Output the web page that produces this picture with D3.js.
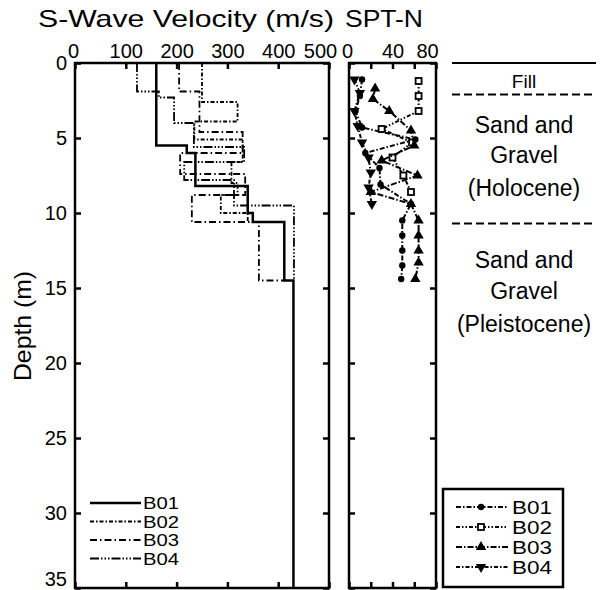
<!DOCTYPE html>
<html>
<head>
<meta charset="utf-8">
<script src="https://cdn.jsdelivr.net/npm/d3@7"></script>
<style>
  body { margin: 0; background: #fff; }
  text { font-family: "Liberation Sans", Arial, sans-serif; fill: #000; }
</style>
</head>
<body>
<div id="chart"></div>
<script>
// chart data
var boreholes = ["B01", "B02", "B03", "B04"];

// S-wave velocity profiles: layer boundaries (m) and layer velocities (m/s)
var vsDepthB01 = [0, 5.5, 6.0, 8.2, 10.0, 10.6, 14.5, 35];
var vsB01 = [160, 220, 237, 340, 350, 412, 430];
var vsDepthB02 = [0, 2.6, 3.9, 5.1, 6.6, 8.0, 8.8, 10.0, 10.6];
var vsB02 = [250, 320, 235, 330, 308, 320, 287, 340];
var vsDepthB03 = [0, 1.9, 4.6, 6.0, 7.4, 8.8, 10.6, 14.5, 14.5];
var vsB03 = [205, 245, 330, 207, 335, 230, 362, 412];
var vsDepthB04 = [0, 1.9, 2.3, 4.0, 5.6, 6.6, 7.8, 9.5, 14.5];
var vsB04 = [122, 165, 195, 234, 333, 215, 313, 431];

// SPT-N blow counts
var sptDepthB01 = [1.1, 2.2, 3.2, 4.3, 5.1, 6.0, 7.0, 8.1, 9.4, 10.5, 11.5, 12.5, 13.5, 14.4];
var sptB01 = [12, 10, 6, 12, 61, 15, 28, 29, 57, 49, 49, 49, 49, 48];
var sptDepthB02 = [1.2, 2.2, 3.2, 4.4, 5.3, 6.3, 7.5, 8.6];
var sptB02 = [64, 64, 64, 30, 58, 40, 50, 57];
var sptDepthB03 = [1.7, 2.4, 3.2, 4.5, 5.5, 6.5, 7.5, 8.6, 9.4, 10.5, 11.5, 12.5, 13.3, 14.4];
var sptB03 = [24, 22, 37, 57, 60, 30, 63, 20, 57, 64, 64, 64, 64, 61];
var sptDepthB04 = [1.1, 2.0, 3.2, 4.2, 5.3, 6.3, 7.3, 8.3, 9.4];
var sptB04 = [5, 10, 5, 8, 12, 18, 20, 18, 21];

var vsTicks = [0, 100, 200, 300, 400, 500];
var sptTicks = [0, 20, 40, 60, 80];
var sptLabels = [0, 40, 80];
var depthTicks = [0, 5, 10, 15, 20, 25, 30, 35];

// geology column
var layerBounds = [0, 2.1, 10.7];
var layerNames = [["Fill"], ["Sand and", "Gravel", "(Holocene)"], ["Sand and", "Gravel", "(Pleistocene)"]];
var layerTextDepth = [[1.1], [4.1, 6.1, 8.3], [13.1, 15.2, 17.4]];

var svgWidth = 610, svgHeight = 590;

var svg = d3.select("#chart").append("svg")
  .attr("width", svgWidth)
  .attr("height", svgHeight);

var yScale = d3.scaleLinear().domain([0, 35]).range([63, 588]);
var xVs = d3.scaleLinear().domain([0, 500]).range([75, 329]);
var xSpt = d3.scaleLinear().domain([0, 80]).range([349, 436]);

var vsDash = ["none", "4,2,1.5,2", "7,3,1.5,3", "9,2,1.5,2,1.5,2,1.5,2"];
var sptDash = ["5,2,1.5,2", "4,2,1.5,2,1.5,2", "6,2,1.5,2", "4,2,1.5,2"];

// helper: draw a frame with inward ticks
function drawFrame(xs, xticks, xlabels) {
  var g = svg.append("g");
  var x0 = xs.range()[0], x1 = xs.range()[1];
  var y0 = yScale.range()[0], y1 = yScale.range()[1];

  var top = d3.axisTop(xs).tickValues(xticks).tickSizeInner(-6).tickSizeOuter(0).tickPadding(5)
    .tickFormat(d => xlabels.indexOf(d) >= 0 ? d : "");
  var topG = g.append("g").attr("transform", `translate(0,${y0})`).call(top);

  var bottom = d3.axisBottom(xs).tickValues(xticks).tickSizeInner(-6).tickSizeOuter(0).tickFormat("");
  g.append("g").attr("transform", `translate(0,${y1})`).call(bottom);

  var right = d3.axisRight(yScale).tickValues(depthTicks).tickSizeInner(-6).tickSizeOuter(0).tickFormat("");
  g.append("g").attr("transform", `translate(${x1},0)`).call(right);

  g.selectAll(".domain").remove();
  g.selectAll("line").attr("stroke-width", 2.5);
  g.selectAll("text").style("font-size", "20px").attr("font-family", "Liberation Sans, Arial, sans-serif");

  // last label sits a little inside the frame corner
  topG.selectAll("text").filter(d => d === xticks[xticks.length - 1]).attr("dx", -9);
  topG.selectAll("text").filter(d => d === 0).attr("dx", -2);

  g.append("rect")
    .attr("x", x0).attr("y", y0)
    .attr("width", x1 - x0).attr("height", y1 - y0)
    .attr("fill", "none").attr("stroke", "#000").attr("stroke-width", 2.5);
  return g;
}

// S-wave panel
var vsFrame = drawFrame(xVs, vsTicks, vsTicks);
var left = d3.axisLeft(yScale).tickValues(depthTicks).tickSizeInner(-6).tickSizeOuter(0).tickPadding(8);
var leftG = svg.append("g").attr("transform", `translate(${xVs.range()[0]},0)`).call(left);
leftG.select(".domain").remove();
leftG.selectAll("line").attr("stroke-width", 2.5);
leftG.selectAll("text").style("font-size", "20px").attr("font-family", "Liberation Sans, Arial, sans-serif");
leftG.selectAll("text").filter(d => d === 35).attr("dy", "-0.15em");

// SPT panel
var sptFrame = drawFrame(xSpt, sptTicks, sptLabels);
var left2 = d3.axisLeft(yScale).tickValues(depthTicks).tickSizeInner(-6).tickSizeOuter(0).tickFormat("");
var left2G = svg.append("g").attr("transform", `translate(${xSpt.range()[0]},0)`).call(left2);
left2G.select(".domain").remove();
left2G.selectAll("line").attr("stroke-width", 2.5);

// titles
svg.append("text").attr("x", 186).attr("y", 27).attr("text-anchor", "middle")
  .style("font-size", "24px").attr("textLength", 296).attr("lengthAdjust", "spacingAndGlyphs")
  .text("S-Wave Velocity (m/s)");
svg.append("text").attr("x", 384).attr("y", 27).attr("text-anchor", "middle")
  .style("font-size", "24px").attr("textLength", 78).attr("lengthAdjust", "spacingAndGlyphs")
  .text("SPT-N");
svg.append("text")
  .attr("transform", "translate(31,326) rotate(-90)")
  .attr("text-anchor", "middle")
  .style("font-size", "24px").attr("textLength", 110).attr("lengthAdjust", "spacingAndGlyphs")
  .text("Depth (m)");

// velocity step profiles
var vsDepths = [vsDepthB01, vsDepthB02, vsDepthB03, vsDepthB04];
var vsVals = [vsB01, vsB02, vsB03, vsB04];
var line = d3.line().x(d => d[0]).y(d => d[1]);

boreholes.forEach(function(b, i) {
  var pts = [];
  vsVals[i].forEach(function(v, j) {
    pts.push([xVs(v), yScale(vsDepths[i][j])]);
    pts.push([xVs(v), yScale(vsDepths[i][j + 1])]);
  });
  svg.append("path")
    .attr("d", line(pts))
    .attr("fill", "none")
    .attr("stroke", "#000")
    .attr("stroke-width", i === 0 ? 2.5 : 1.8)
    .attr("stroke-dasharray", vsDash[i]);
});

// velocity legend
boreholes.forEach(function(b, i) {
  var ly = 503 + i * 18.5;
  svg.append("line").attr("x1", 90).attr("x2", 141).attr("y1", ly).attr("y2", ly)
    .attr("stroke", "#000").attr("stroke-width", i === 0 ? 2.5 : 1.8)
    .attr("stroke-dasharray", vsDash[i]);
  svg.append("text").attr("x", 143).attr("y", ly + 6).style("font-size", "17px")
    .attr("textLength", 36).attr("lengthAdjust", "spacingAndGlyphs").text(b);
});

// SPT profiles
var sptDepths = [sptDepthB01, sptDepthB02, sptDepthB03, sptDepthB04];
var sptVals = [sptB01, sptB02, sptB03, sptB04];

function marker(g, i, cx, cy) {
  if (i === 0) {
    g.append("circle").attr("cx", cx).attr("cy", cy).attr("r", 3.2).attr("fill", "#000");
  } else if (i === 1) {
    g.append("rect").attr("x", cx - 3).attr("y", cy - 3).attr("width", 6).attr("height", 6)
      .attr("fill", "#fff").attr("stroke", "#000").attr("stroke-width", 1.8);
  } else {
    g.append("path")
      .attr("d", d3.symbol().type(d3.symbolTriangle).size(30)())
      .attr("transform", `translate(${cx},${cy}) rotate(${i === 3 ? 180 : 0})`)
      .attr("fill", "#000")
      .attr("stroke", "#000").attr("stroke-width", 1.2);
  }
}

boreholes.forEach(function(b, i) {
  var pts = sptVals[i].map((n, j) => [xSpt(n), yScale(sptDepths[i][j])]);
  var g = svg.append("g");
  g.append("path")
    .attr("d", line(pts))
    .attr("fill", "none")
    .attr("stroke", "#000")
    .attr("stroke-width", 2)
    .attr("stroke-dasharray", sptDash[i]);
  pts.forEach(p => marker(g, i, p[0], p[1]));
});

// SPT legend
svg.append("rect").attr("x", 443).attr("y", 489).attr("width", 120).attr("height", 98)
  .attr("fill", "#fff").attr("stroke", "#000").attr("stroke-width", 2.5);
boreholes.forEach(function(b, i) {
  var ly = 507 + i * 20;
  var g = svg.append("g");
  g.append("line").attr("x1", 456).attr("x2", 508).attr("y1", ly).attr("y2", ly)
    .attr("stroke", "#000").attr("stroke-width", 2).attr("stroke-dasharray", sptDash[i]);
  marker(g, i, 481, ly);
  svg.append("text").attr("x", 512).attr("y", ly + 7).style("font-size", "19px")
    .attr("textLength", 40).attr("lengthAdjust", "spacingAndGlyphs").text(b);
});

// geology column
var gx0 = 452, gx1 = 596, gxc = (gx0 + gx1) / 2;
layerBounds.forEach(function(d, i) {
  svg.append("line").attr("x1", gx0).attr("x2", gx1)
    .attr("y1", yScale(d)).attr("y2", yScale(d))
    .attr("stroke", "#000").attr("stroke-width", 1.8)
    .attr("stroke-dasharray", i === 0 ? "none" : "8,4");
});
layerNames.forEach(function(lines, i) {
  lines.forEach(function(t, j) {
    svg.append("text").attr("x", gxc).attr("y", yScale(layerTextDepth[i][j]) + 8)
      .attr("text-anchor", "middle").style("font-size", i === 0 ? "19px" : "23px").text(t);
  });
});
</script>
</body>
</html>
